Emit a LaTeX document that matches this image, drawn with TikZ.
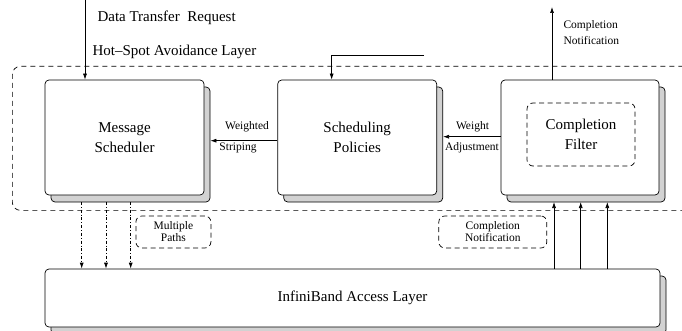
\documentclass[tikz,border=0pt]{standalone}
\usepackage{fontspec}
\setmainfont{Liberation Serif}
\usetikzlibrary{arrows.meta,shadows}

\tikzset{
  big/.style={font=\rmfamily\fontsize{15}{20}\selectfont},
  small/.style={font=\rmfamily\fontsize{11.5}{16}\selectfont},
  tight/.style={font=\rmfamily\fontsize{11.5}{12}\selectfont},
  blk/.style={draw, line width=0.7pt, rounded corners=4pt, fill=white,
    general shadow={shadow xshift=6pt, shadow yshift=-7pt, fill=gray!35, draw=black, line width=0.7pt}},
  dbox/.style={draw, line width=0.7pt, rounded corners=6pt, dash pattern=on 5pt off 3.5pt},
  arr/.style={line width=0.7pt, -{Latex[length=6pt,width=4pt]}},
  ddarr/.style={line width=0.7pt, dash dot, -{Latex[length=6pt,width=4pt]}},
}

\begin{document}
\begin{tikzpicture}[x=1pt,y=-1pt]
\useasboundingbox (0,0) rectangle (682,331);

% hot-spot avoidance layer frame
\node[draw, line width=0.7pt, rounded corners=8pt, dash pattern=on 5pt off 4pt,
  minimum width=688pt, minimum height=144pt, anchor=north west] (hsa) at (12,66) {};
\node[big, anchor=west] (hsalbl) at (89,52) {Hot–Spot Avoidance Layer};

% main blocks
\node[blk, big, align=center, minimum width=159pt, minimum height=115pt] (ms) at (124.5,137.5) {Message\\Scheduler};
\node[blk, big, align=center, minimum width=159pt, minimum height=115pt] (sp) at (357.2,137.5) {Scheduling\\Policies};
\node[blk, minimum width=158pt, minimum height=115pt] (cf) at (580,137.5) {};
\node[dbox, big, align=center, minimum width=108pt, minimum height=63pt] (cfi) at (581,134.5) {Completion\\Filter};
\node[blk, big, minimum width=615pt, minimum height=58pt] (ib) at (352.5,298) {InfiniBand Access Layer};

% annotation boxes
\node[dbox, tight, align=center, minimum width=75pt, minimum height=32pt] (mp) at (173.4,232) {Multiple\\Paths};
\node[dbox, tight, align=center, minimum width=108pt, minimum height=32pt] (cn) at (492.8,232) {Completion\\Notification};

% data transfer request
\coordinate (dtr) at (85,0);
\draw[arr] (dtr) -- (dtr |- ms.north);
\node[big, anchor=west] (dtrlbl) at (94,18) {Data Transfer\ \ Request};

% input into scheduling policies
\coordinate (spin) at (424,55);
\draw[arr] (spin) -| ([xshift=54.3pt]sp.north west);

% completion notification out
\coordinate (cnout) at (552,7);
\draw[arr] (cf.north -| cnout) -- (cnout);
\node[small, anchor=west, align=left] (cnlbl) at (560,33) {Completion\\Notification};

% weighted striping
\draw[arr] ([yshift=-3.2pt]sp.west) -- ([xshift=6pt,yshift=-3.2pt]ms.east);
\node[small] (wlbl) at (247,127) {Weighted};
\node[small] (slbl) at (238,148) {Striping};

% weight adjustment
\draw[arr] ([yshift=0.8pt]cf.west) -- ([xshift=6pt,yshift=0.8pt]sp.east);
\node[small] (walbl) at (472.5,127) {Weight};
\node[small] (adlbl) at (472,148) {Adjustment};

% multiple paths down
\foreach \x/\n in {81.7/a,106/b,130.7/c}{
  \coordinate (md\n) at (\x,202);
  \draw[ddarr] (md\n) -- (md\n |- ib.north);
}

% completion notifications up
\foreach \x/\n in {554/a,580.7/b,607.3/c}{
  \coordinate (cu\n) at (\x,202);
  \draw[arr] (cu\n |- ib.north) -- (cu\n);
}
\end{tikzpicture}
\end{document}
